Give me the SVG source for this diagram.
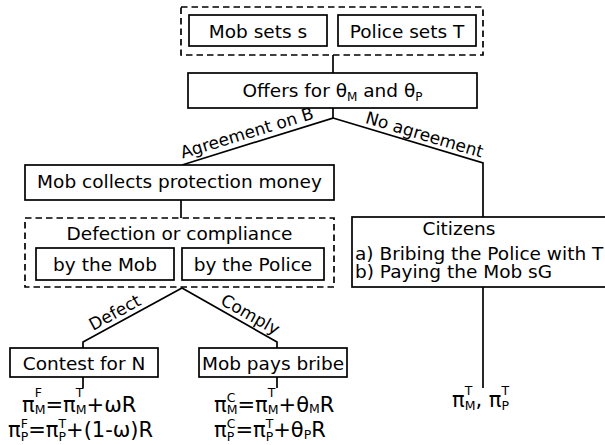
<svg xmlns="http://www.w3.org/2000/svg" width="605" height="445" viewBox="0 0 605 445">
<style>
text{font-family:"DejaVu Sans","Noto Sans",sans-serif;fill:#000}
.t{font-size:18.5px}
.m{text-anchor:middle}
.lbl{font-size:17px;text-anchor:middle}
.f{font-size:21px}
.s{font-size:12.5px}
.ss{font-size:12px}
.box{fill:#fff;stroke:#000;stroke-width:1.7}
.dash{fill:none;stroke:#000;stroke-width:1.7;stroke-dasharray:6.5,4}
.con path{fill:none;stroke:#000;stroke-width:1.7}
</style>
<rect width="605" height="445" fill="#fff"/>
<g id="connectors" class="con">
<path d="M333 55V73"/>
<path d="M333 108V118L182 165M333 118L483 163V217"/>
<path d="M181 200V218"/>
<path d="M83 348V342L182 288L277 342V348"/>
<path d="M83 377V388M277 377V388"/>
<path d="M483 287V388"/>
</g>
<g id="setup">
<rect class="dash" x="181" y="7" width="302" height="48"/>
<g id="mobsets"><rect class="box" x="189" y="15" width="138" height="31"/><text class="t m" x="258" y="37.5">Mob sets s</text></g>
<g id="policesets"><rect class="box" x="338" y="15" width="138" height="31"/><text class="t m" x="407" y="37.5">Police sets T</text></g>
</g>
<g id="offers"><rect class="box" x="188" y="73" width="289" height="35"/><text class="t m" x="332.5" y="97">Offers for θ<tspan class="ss" dy="4">M</tspan><tspan dy="-4"> and θ</tspan><tspan class="ss" dy="4">P</tspan></text></g>
<g id="edge-labels">
<text class="lbl" transform="translate(250 143.3) rotate(-16.9)" y="-5">Agreement on B</text>
<text class="lbl" transform="translate(421.5 144.5) rotate(16.7)" y="-4.5">No agreement</text>
<text class="lbl" transform="translate(120 322) rotate(-28.6)" y="-5">Defect</text>
<text class="lbl" transform="translate(245 324) rotate(29.6)" y="-5">Comply</text>
</g>
<g id="mobcollects"><rect class="box" x="25" y="165" width="309" height="35"/><text class="t m" x="179.5" y="188">Mob collects protection money</text></g>
<g id="defection">
<rect class="dash" x="25" y="218" width="309" height="69"/>
<text class="t m" x="179.5" y="240">Defection or compliance</text>
<g id="bymob"><rect class="box" x="36" y="248" width="138" height="32"/><text class="t m" x="105" y="271">by the Mob</text></g>
<g id="bypolice"><rect class="box" x="182" y="248" width="142" height="32"/><text class="t m" x="253" y="271">by the Police</text></g>
</g>
<g id="citizens"><rect class="box" x="352" y="217" width="270" height="70"/>
<text class="t m" x="459" y="235">Citizens</text>
<text class="t" x="355" y="260">a) Bribing the Police with T</text>
<text class="t" x="355" y="278">b) Paying the Mob sG</text>
</g>
<g id="contest"><rect class="box" x="10" y="348" width="148" height="29"/><text class="t m" x="84" y="370">Contest for N</text></g>
<g id="mobpays"><rect class="box" x="199" y="348" width="148" height="29"/><text class="t m" x="273" y="370">Mob pays bribe</text></g>
<g id="payoffs-F">
<text class="f" x="22" y="412">π<tspan class="s" dy="-15">F</tspan><tspan class="s" dx="-7.2" dy="17">M</tspan><tspan dy="-2">=π</tspan><tspan class="s" dy="-15">T</tspan><tspan class="s" dx="-7.6" dy="17">M</tspan><tspan dy="-2">+ωR</tspan></text>
<text class="f" x="8" y="437">π<tspan class="s" dy="-9">F</tspan><tspan class="s" dx="-7.2" dy="13">P</tspan><tspan dy="-4">=π</tspan><tspan class="s" dy="-9">T</tspan><tspan class="s" dx="-7.6" dy="13">P</tspan><tspan dy="-4">+(1-ω)R</tspan></text>
</g>
<g id="payoffs-C">
<text class="f" x="214" y="412">π<tspan class="s" dy="-10">C</tspan><tspan class="s" dx="-8.7" dy="12">M</tspan><tspan dy="-2">=π</tspan><tspan class="s" dy="-15">T</tspan><tspan class="s" dx="-7.6" dy="17">M</tspan><tspan dy="-2">+θ</tspan><tspan class="s" dy="1">M</tspan><tspan dy="-1">R</tspan></text>
<text class="f" x="214" y="437">π<tspan class="s" dy="-9">C</tspan><tspan class="s" dx="-8.7" dy="13">P</tspan><tspan dx="1.2" dy="-4">=π</tspan><tspan class="s" dy="-9">T</tspan><tspan class="s" dx="-7.6" dy="13">P</tspan><tspan dy="-4">+θ</tspan><tspan class="s" dy="2">P</tspan><tspan dy="-2">R</tspan></text>
</g>
<g id="payoffs-T">
<text class="f" x="452" y="407">π<tspan class="s" dy="-12">T</tspan><tspan class="s" dx="-7.6" dy="15">M</tspan><tspan dy="-3">, π</tspan><tspan class="s" dy="-12">T</tspan><tspan class="s" dx="-7.6" dy="15">P</tspan></text>
</g>
</svg>
